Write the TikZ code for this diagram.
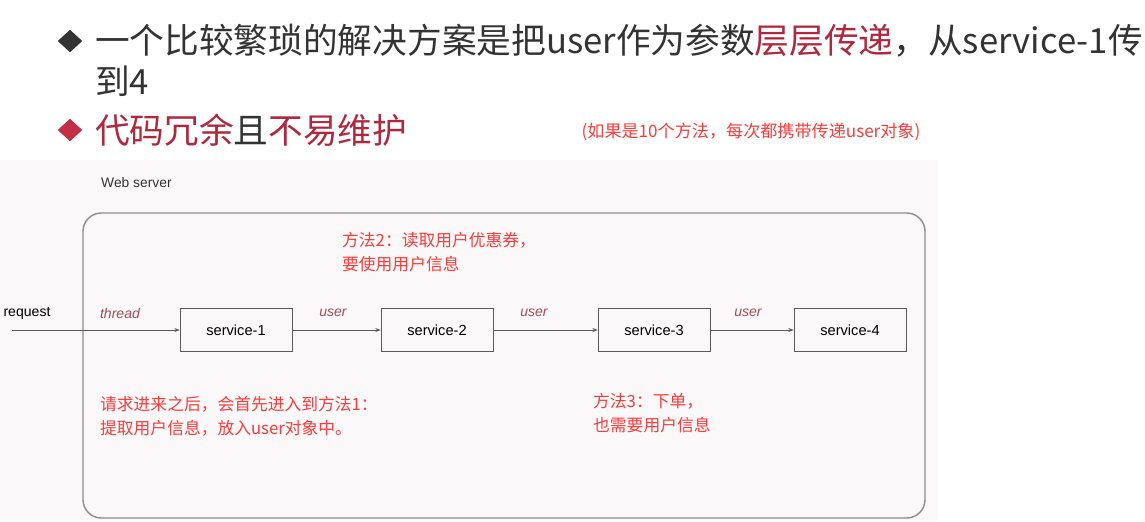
\documentclass[tikz,border=0pt]{standalone}
\usepackage{fontspec}
\setmainfont{Noto Sans CJK SC}
\newfontfamily\latinfont{Liberation Sans}
\usetikzlibrary{shapes.geometric,arrows.meta}
\definecolor{titlegray}{HTML}{333333}
\definecolor{titlered}{HTML}{B0283E}
\definecolor{bulletred}{HTML}{C23048}
\definecolor{notered}{HTML}{FF3B3B}
\definecolor{labelred}{HTML}{A84A5A}
\definecolor{panelbg}{HTML}{FAF8F8}
\definecolor{framegray}{HTML}{8C8C8C}
\definecolor{boxgray}{HTML}{5A5A5A}

\begin{document}
\begin{tikzpicture}
[
    x=0.03cm, y=-0.03cm,
    bullet/.style={diamond, inner sep=0pt, minimum width=7.4mm, minimum height=6.8mm},
    headline/.style={anchor=west, inner sep=0pt, text=titlegray, font=\fontsize{29.6}{34}\selectfont},
    svcbox/.style={draw=boxgray, line width=0.6pt, minimum width=3.36cm, minimum height=1.27cm, font=\latinfont\fontsize{12.5}{14}\selectfont},
    flowlabel/.style={text=labelred, inner sep=0pt, font=\latinfont\itshape\fontsize{12}{14}\selectfont},
    redtext/.style={anchor=west, align=left, inner sep=0pt, text=notered, font=\fontsize{14.3}{20.5}\selectfont},
    flow/.style={draw=boxgray, line width=0.6pt, -{Stealth[length=1.6mm, width=1.2mm]}},
]
\useasboundingbox (0,0) rectangle (1145,521);
\fill[white] (0,0) rectangle (1145,521);
\fill[panelbg] (0,160) rectangle (938,521);

% headline
\node [bullet, fill=titlegray] (b1) at (70,41) {};
\node [headline] (line1) at (95,41)
{一个比较繁琐的解决方案是把user作为参数\textcolor{titlered}{层层传递}，从service-1传};
\node [headline] (line2) at (95,81) {到4};
\node [bullet, fill=bulletred] (b2) at (70,130) {};
\node [headline] (line3) at (95,130)
{\textcolor{titlered}{代码冗余}且\textcolor{titlered}{不易维护}};
\node [text=notered, inner sep=0pt, font=\fontsize{14.6}{16}\selectfont] (note) at (751,132)
{(如果是10个方法，每次都携带传递user对象)};

% web server
\node [anchor=west, inner sep=0pt, text=titlegray, font=\latinfont\fontsize{11.8}{14}\selectfont] (websrv) at (101,183) {Web server};
\draw [framegray, line width=1.2pt, rounded corners=0.55cm] (83,213) rectangle (925,518);

\node [svcbox] (s1) at (236,330) {service-1};
\node [svcbox] (s2) at (437,330) {service-2};
\node [svcbox] (s3) at (654,330) {service-3};
\node [svcbox] (s4) at (850,330) {service-4};

\node [inner sep=0pt, text=black, font=\latinfont\fontsize{12}{14}\selectfont] (req) at (27,313) {request};
\coordinate (start) at (12,330);
\node [flowlabel] (thread) at (120,313) {thread};
\node [flowlabel] (u1) at (333,313) {user};
\node [flowlabel] (u2) at (534,313) {user};
\node [flowlabel] (u3) at (748,313) {user};

\draw [flow] (start) -- (s1);
\draw [flow] (s1) -- (s2);
\draw [flow] (s2) -- (s3);
\draw [flow] (s3) -- (s4);

% notes
\node [redtext] (m2) at (342,252) {方法2：读取用户优惠券，\\要使用用户信息};
\node [redtext] (m1) at (100,416) {请求进来之后，会首先进入到方法1：\\提取用户信息，放入user对象中。};
\node [redtext] (m3) at (593,413) {方法3：下单，\\也需要用户信息};
\end{tikzpicture}
\end{document}
